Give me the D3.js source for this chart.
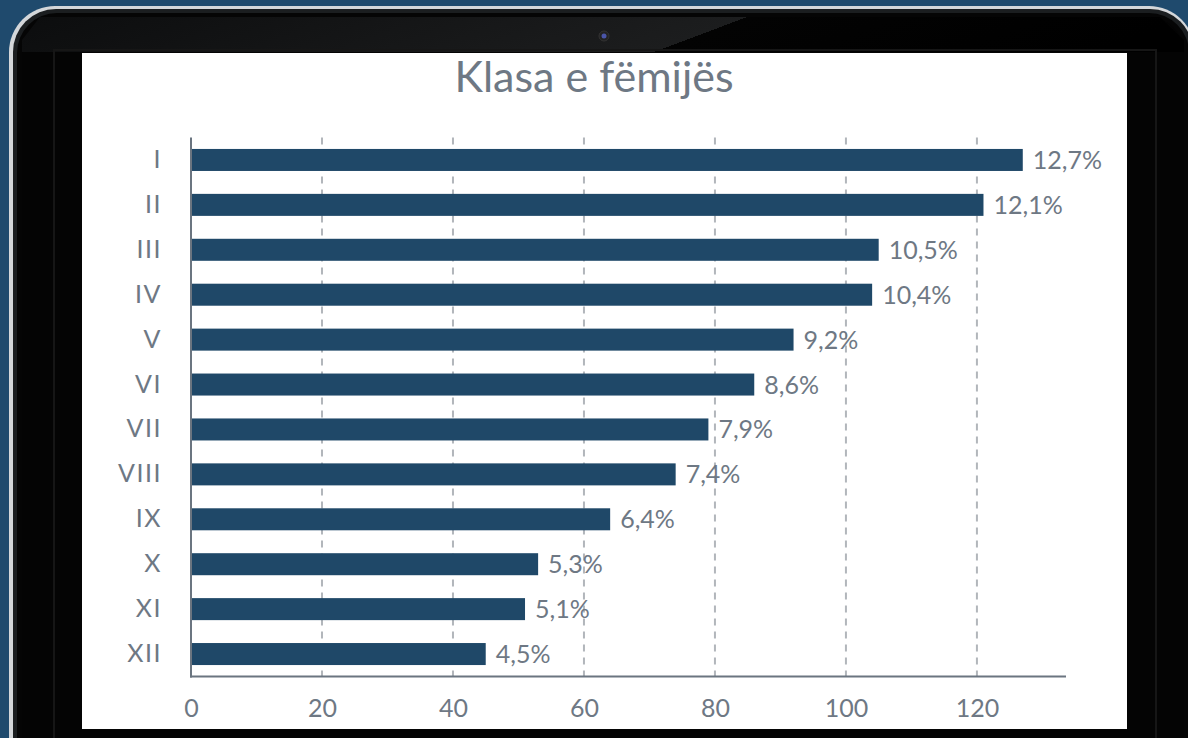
<!DOCTYPE html>
<html><head><meta charset="utf-8">
<script src="https://cdn.jsdelivr.net/npm/d3@7"></script>
<style>
html,body{margin:0;padding:0;background:#1f4a6d;overflow:hidden;}
svg{display:block;}
</style></head>
<body>
<svg id="c" width="1188" height="738"></svg>
<script>
const categories = ["I","II","III","IV","V","VI","VII","VIII","IX","X","XI","XII"];
const values = [127,121,105,104,92,86,79,74,64,53,51,45];
const percentLabels = ["12,7%","12,1%","10,5%","10,4%","9,2%","8,6%","7,9%","7,4%","6,4%","5,3%","5,1%","4,5%"];
const xTicks = [0,20,40,60,80,100,120];
const title = "Klasa e fëmijës";

(function(){
const svg = d3.select("#c");
const defs = svg.append("defs");
const g1 = defs.append("linearGradient").attr("id","bez").attr("x1","0").attr("y1","0").attr("x2","1").attr("y2","0.08");
g1.append("stop").attr("offset","0").attr("stop-color","#0c0d0e");
g1.append("stop").attr("offset","0.62").attr("stop-color","#1c1d1e");
g1.append("stop").attr("offset","0.62").attr("stop-color","#030303");
g1.append("stop").attr("offset","1").attr("stop-color","#000");

svg.append("rect").attr("width",1188).attr("height",738).attr("fill","#1f4a6d");
svg.append("rect").attr("x",9).attr("y",6).attr("width",1186).attr("height",790).attr("rx",46)
  .attr("fill","#d4d7da");
svg.append("rect").attr("x",13).attr("y",9).attr("width",1180).attr("height",785).attr("rx",43)
  .attr("fill","#1b1e20");
svg.append("rect").attr("x",17).attr("y",13).attr("width",1172).attr("height",778).attr("rx",40)
  .attr("fill","#050505");
svg.append("rect").attr("x",22).attr("y",17).attr("width",1162).attr("height",770).attr("rx",36)
  .attr("fill","#040404");
svg.append("path").attr("d","M40,17 H1160 L1184,40 V52 H22 V40 Z").attr("fill","url(#bez)");
svg.append("rect").attr("x",54).attr("y",50).attr("width",1102).attr("height",700)
  .attr("fill","none").attr("stroke","#161616").attr("stroke-width",2);
svg.append("circle").attr("cx",604).attr("cy",36).attr("r",5).attr("fill","#222").attr("stroke","#333");
svg.append("circle").attr("cx",604).attr("cy",36).attr("r",2.5).attr("fill","#4a55a8");
svg.append("rect").attr("x",82).attr("y",53).attr("width",1045).attr("height",676).attr("fill","#ffffff");

const pLeft = 191, pRight = 1066, pTop = 137.5, pBottom = 676.5;
const x = d3.scaleLinear().domain([0,133.6]).range([pLeft,pRight]);
const y = d3.scaleBand().domain(categories).range([pTop,pBottom]).paddingInner(0.51).paddingOuter(0.255);

const textColor = "#6e7884";
const font = "Lato, 'Open Sans', sans-serif";

svg.append("g").selectAll("line").data(xTicks.filter(d=>d>0)).join("line")
  .attr("x1",d=>x(d)).attr("x2",d=>x(d)).attr("y1",pTop).attr("y2",pBottom)
  .attr("stroke","#b2b6bb").attr("stroke-width",2).attr("stroke-dasharray","7,6");

svg.append("g").selectAll("rect").data(values).join("rect")
  .attr("x",x(0)).attr("y",(d,i)=>y(categories[i]))
  .attr("width",d=>x(d)-x(0)).attr("height",y.bandwidth())
  .attr("fill","#1f4868");

svg.append("g").selectAll("text").data(values).join("text")
  .attr("x",d=>x(d)+10).attr("y",(d,i)=>y(categories[i])+y.bandwidth()/2)
  .attr("dy","0.36em").attr("fill",textColor).attr("font-family",font).attr("font-size",25)
  .text((d,i)=>percentLabels[i]);

const xAxis = svg.append("g").attr("transform",`translate(0,${pBottom})`)
  .call(d3.axisBottom(x).tickValues(xTicks).tickSize(0).tickPadding(23));
xAxis.select(".domain").attr("stroke","#6b7580").attr("stroke-width",2).attr("d",`M${pLeft-1},0H${pRight}`);
xAxis.selectAll("text").attr("fill",textColor).attr("font-family",font).attr("font-size",25);

const yAxis = svg.append("g").attr("transform",`translate(${pLeft},0)`)
  .call(d3.axisLeft(y).tickSize(0).tickPadding(29));
yAxis.select(".domain").attr("stroke","#6b7580").attr("stroke-width",2).attr("d",`M0,${pTop}V${pBottom+1}`);
yAxis.selectAll("text").attr("fill",textColor).attr("font-family",font).attr("font-size",25)
  .attr("letter-spacing","1.5px");

svg.append("text").attr("x",594).attr("y",77).attr("dy","0.35em").attr("text-anchor","middle")
  .attr("fill",textColor).attr("font-family",font).attr("font-size",43).text(title);
})();
</script>
</body></html>
